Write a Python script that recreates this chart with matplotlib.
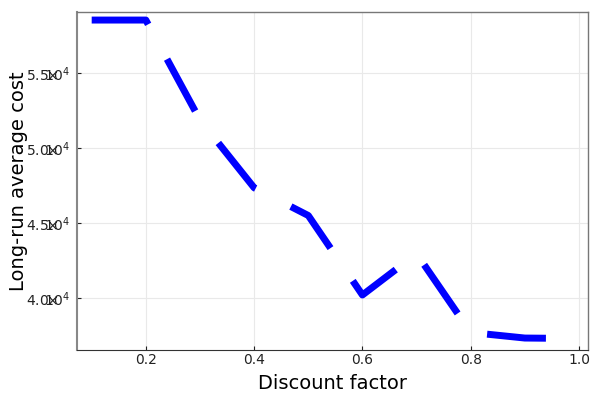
import matplotlib.pyplot as plt
import numpy as np

plt.rcParams['font.family'] = ['DejaVu Sans']
plt.rcParams['mathtext.fontset'] = 'dejavusans'
plt.rcParams['lines.scale_dashes'] = False

# discount factor vs long-run average cost
discount = [0.1, 0.2, 0.3, 0.4, 0.5, 0.6, 0.7, 0.8, 0.9, 1.0]
avg_cost = [58530, 58530, 51870, 47350, 45500, 40200, 42950, 37700, 37330, 37300]

y_ticks = [40000, 45000, 50000, 55000]
y_mant = ['4.0', '4.5', '5.0', '5.5']
x_ticks = [0.2, 0.4, 0.6, 0.8, 1.0]
x_labels = ['0.2', '0.4', '0.6', '0.8', '1.0']

# GR squeezes the "×1" together, so pull the glyphs onto each other
y_labels = [r'$' + m + r'\!\!\times\!\!\!\!\!\!\!10^{4}$' for m in y_mant]

fig = plt.figure(figsize=(6, 4), dpi=100)
ax = fig.add_axes([0.128, 0.125, 0.852, 0.845])

ax.plot(discount, avg_cost, color='#0000ff', linewidth=5, linestyle=(0, (42.5, 28.5)),
        solid_capstyle='butt', dash_capstyle='butt')

ax.set_xlim(0.0725, 1.0166)
ax.set_ylim(36533, 59067)
ax.set_xticks(x_ticks, x_labels)
ax.set_yticks(y_ticks, y_labels)
ax.tick_params(direction='in', length=3, width=0.8, labelsize=10, colors='#222222', pad=2)
ax.tick_params(axis='y', pad=5)
ax.grid(True, color='#e9e9e9', linewidth=0.8)
ax.set_axisbelow(True)

for side in ['top', 'right']:
    ax.spines[side].set_color('#777777')
    ax.spines[side].set_linewidth(1.0)
ax.spines['left'].set_color('#888888')
ax.spines['left'].set_linewidth(1.5)
ax.spines['bottom'].set_color('#333333')

ax.set_xlabel('Discount factor', fontsize=14)
ax.set_ylabel('Long-run average cost', fontsize=14)
ax.yaxis.set_label_coords(-0.096, 0.5)
ax.xaxis.set_label_coords(0.5, -0.07)

fig.savefig('out.png', dpi=100)
